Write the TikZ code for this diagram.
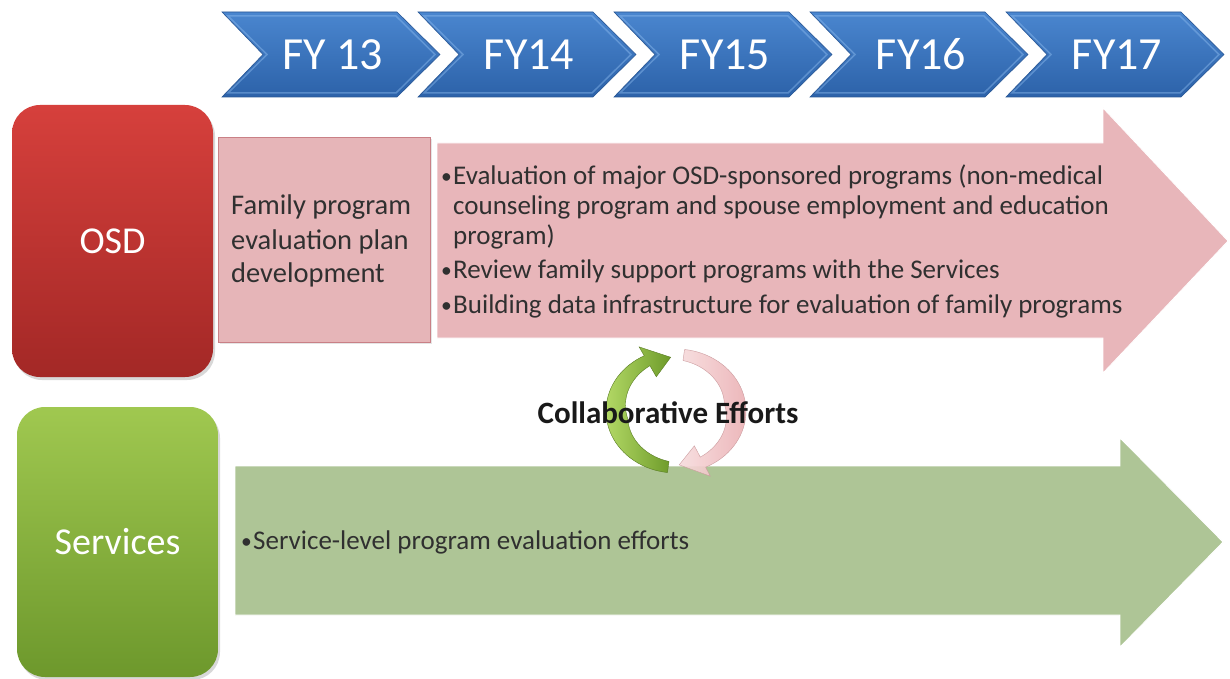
\documentclass[tikz,border=0pt]{standalone}
\usepackage{fontspec}
\setmainfont{Carlito}
\usetikzlibrary{shadows}

\definecolor{chevtop}{HTML}{4A86CF}
\definecolor{chevbot}{HTML}{2C62A9}
\definecolor{chevedge}{HTML}{2A5896}
\definecolor{chevlight}{HTML}{8DBBEE}
\definecolor{osdtop}{HTML}{D6403C}
\definecolor{osdbot}{HTML}{A32826}
\definecolor{svctop}{HTML}{A0C850}
\definecolor{svcbot}{HTML}{6D982C}
\definecolor{pinkfill}{HTML}{E6B5B8}
\definecolor{pinkedge}{HTML}{C98086}
\definecolor{pinkarrow}{HTML}{E8B6BA}
\definecolor{greenarrow}{HTML}{AEC596}
\definecolor{bodytext}{HTML}{303030}
\definecolor{cyclegreenA}{HTML}{B2D865}
\definecolor{cyclegreenB}{HTML}{6E9B2A}
\definecolor{cyclepinkA}{HTML}{F7DCDD}
\definecolor{cyclepinkB}{HTML}{EBB0B4}

\newcommand\bulmark{\makebox[12pt][l]{\raisebox{1pt}{\scalebox{0.8}{\textbullet}}}}

\tikzset{
  chevron/.style={top color=chevtop, bottom color=chevbot, draw=chevedge, line width=0.6pt},
  chevbevel/.style={draw=chevlight, line width=1.5pt, opacity=0.45},
  chevlabel/.style={text=white, font=\fontsize{46}{50}\selectfont, inner sep=0pt},
  groupbox/.style={rounded corners=28pt, minimum width=201pt, text=white,
    font=\fontsize{38}{44}\selectfont,
    drop shadow={opacity=0.3, shadow xshift=2pt, shadow yshift=-3pt}},
  planbox/.style={fill=pinkfill, draw=pinkedge, line width=0.8pt, minimum width=212pt, minimum height=205pt,
    drop shadow={opacity=0.2, shadow xshift=1.5pt, shadow yshift=-2pt}},
  bodyline/.style={anchor=base west, inner sep=0pt, text=bodytext, font=\fontsize{27}{32}\selectfont},
  planline/.style={anchor=base west, inner sep=0pt, text=bodytext, font=\fontsize{28.5}{34}\selectfont},
  bandarrow/.style={draw=white, line width=0.8pt},
  cyclelabel/.style={inner sep=0pt, text=black!90, font=\bfseries\fontsize{31}{34}\selectfont},
}

\begin{document}
\begin{tikzpicture}[x=1pt, y=-1pt]
\useasboundingbox[fill=white] (0,0) rectangle (1230,679);

% fiscal-year chevrons
\foreach \L/\T/\n in {222/FY 13/c13, 418/FY14/c14, 614/FY15/c15, 810/FY16/c16, 1006/FY17/c17} {
  \shade[chevron] (\L,12) -- ++(175,0) -- ++(43,42.5) -- ++(-43,42.5) -- ++(-175,0) -- ++(41,-42.5) -- cycle;
  \draw[chevbevel] (\L+6,16) -- ++(168,0) -- ++(39,38.5) -- ++(-39,38.5) -- ++(-168,0) -- ++(39,-38.5) -- cycle;
  \node[chevlabel] (\n) at (\L+111,54.5) {\T};
}

% OSD row
\node[groupbox, minimum height=272pt, top color=osdtop, bottom color=osdbot] (osd) at (112.5,241) {OSD};
\node[planbox] (plan) at (324,239.5) {};
\node[planline] (f1) at (231,214) {Family program};
\node[planline] (f2) at (231,249) {evaluation plan};
\node[planline] (f3) at (231,282) {development};

\path[fill=pinkarrow, bandarrow] (437,143) -- (1103,143) -- (1103,108) -- (1228,241) -- (1103,373) -- (1103,338) -- (437,338) -- cycle;
\node[bodyline] (e1) at (441,184) {\bulmark Evaluation of major OSD-sponsored programs (non-medical};
\node[bodyline] (e2) at (453,214) {counseling program and spouse employment and education};
\node[bodyline] (e3) at (453,244) {program)};
\node[bodyline] (e4) at (441,278) {\bulmark Review family support programs with the Services};
\node[bodyline] (e5) at (441,313) {\bulmark Building data infrastructure for evaluation of family programs};

% Services row
\node[groupbox, minimum height=270pt, top color=svctop, bottom color=svcbot] (svc) at (117.5,542) {Services};
\path[fill=greenarrow, bandarrow] (235,466) -- (1120,466) -- (1120,438) -- (1223,542) -- (1120,647) -- (1120,615) -- (235,615) -- cycle;
\node[bodyline] (s1) at (241,549) {\bulmark Service-level program evaluation efforts};

% collaboration cycle: two curved arrows
\shade[left color=cyclegreenA, right color=cyclegreenB, draw=cyclegreenB!80!black, line width=0.4pt]
  plot[domain=97:243, samples=40] ({676+70*cos(\x)},{411+62*sin(\x)})
  -- ({676+1.16*70*cos(243)},{411+1.16*62*sin(243)})
  -- ({676+0.87*70*cos(265)},{411+0.87*62*sin(265)})
  -- ({676+0.62*70*cos(243)},{411+0.62*62*sin(243)})
  -- plot[domain=243:97, samples=40] ({676+(0.70+0.12*abs(\x-170)/73)*70*cos(\x)},{411+(0.70+0.12*abs(\x-170)/73)*62*sin(\x)})
  -- cycle;
\shade[left color=cyclepinkA, right color=cyclepinkB, draw=cyclepinkB!85!black, line width=0.4pt, opacity=0.9]
  plot[domain=277:425, samples=40] ({676+70*cos(\x)},{411+62*sin(\x)})
  -- ({676+1.16*70*cos(425)},{411+1.16*62*sin(425)})
  -- ({676+0.87*70*cos(447)},{411+0.87*62*sin(447)})
  -- ({676+0.62*70*cos(425)},{411+0.62*62*sin(425)})
  -- plot[domain=425:277, samples=40] ({676+(0.70+0.12*abs(\x-351)/74)*70*cos(\x)},{411+(0.70+0.12*abs(\x-351)/74)*62*sin(\x)})
  -- cycle;
\node[cyclelabel] (collab) at (668,413) {Collaborative Efforts};
\end{tikzpicture}
\end{document}
